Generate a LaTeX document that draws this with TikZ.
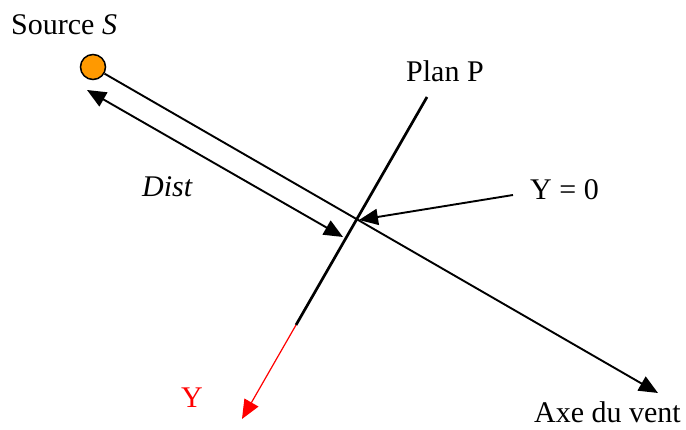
\documentclass[tikz,border=0pt]{standalone}
\usepackage{fontspec}
\setmainfont{Liberation Serif}
\usetikzlibrary{arrows.meta}
\definecolor{srcorange}{HTML}{FF9900}
\tikzset{
  lbl/.style={inner sep=0pt, font=\fontsize{30}{35}\selectfont},
  axis/.style={line width=1.9pt, -{Triangle[length=19pt,width=16pt]}},
  dbl/.style={line width=1.9pt, {Triangle[length=19pt,width=16pt]}-{Triangle[length=19pt,width=16pt]}},
  plan/.style={line width=2.7pt},
  yaxis/.style={line width=1.2pt, red, -{Triangle[length=19pt,width=16pt]}},
}
\begin{document}
\begin{tikzpicture}[x=1pt,y=-1pt]
\useasboundingbox (0,0) rectangle (686,430);
% source
\node[circle, draw=black, line width=1.5pt, fill=srcorange, minimum size=25pt, inner sep=0pt] (src) at (93,67) {};
\node[lbl, anchor=base west] (srclbl) at (11,35) {Source \textit{S}};
% coordinates
\coordinate (windend) at (658,393);
\coordinate (dA) at (87,90);
\coordinate (dB) at (343,237);
\coordinate (planTop) at (427,97);
\coordinate (planBot) at (296,325);
\coordinate (yEnd) at (242,419);
\coordinate (y0start) at (513,195);
\coordinate (y0tip) at (359,220);
% lines
\draw[axis] (src) -- (windend);
\draw[plan] (planTop) -- (planBot);
\draw[yaxis] (planBot) -- (yEnd);
\draw[dbl] (dA) -- (dB);
\draw[axis] (y0start) -- (y0tip);
% labels
\node[lbl, anchor=base west] (planlbl) at (406,82) {Plan P};
\node[lbl, anchor=base west] (y0lbl) at (530,200) {Y = 0};
\node[lbl, anchor=base west] (distlbl) at (142,197) {\textit{Dist}};
\node[lbl, anchor=base west, text=red] (ylbl) at (181,408) {Y};
\node[lbl, anchor=base east] (windlbl) at (681,423) {Axe du vent};
\end{tikzpicture}
\end{document}
